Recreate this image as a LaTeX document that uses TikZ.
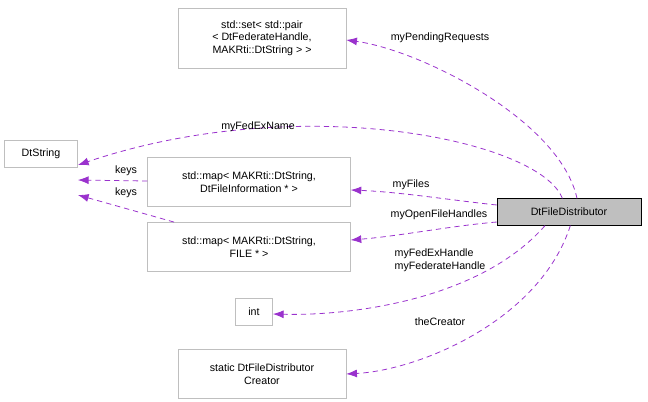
\documentclass[tikz,border=0pt]{standalone}
\usepackage{fontspec}
\setmainfont{Liberation Sans}
\usetikzlibrary{arrows.meta, positioning}
\definecolor{edgepurple}{HTML}{9A32CD}
\definecolor{boxgray}{HTML}{BFBFBF}
\definecolor{framegray}{HTML}{BFBFBF}

\tikzset{
  cls/.style={draw=framegray, fill=white, align=center, inner sep=3pt, font=\fontsize{8}{9.5}\selectfont},
  rel/.style={draw=edgepurple, line width=0.6pt, dash pattern=on 4pt off 3pt, -{Latex[length=8pt,width=6pt]}},
  lbl/.style={font=\fontsize{8}{9.5}\selectfont},
}

\begin{document}
\begin{tikzpicture}[x=0.75pt, y=-0.75pt]
    \useasboundingbox (0,0) rectangle (648,401);

    % Classes
    \node[cls, draw=black, fill=boxgray, minimum width=108pt, minimum height=20pt] (dist) at (569,212) {DtFileDistributor};
    \node[cls, minimum width=55pt, minimum height=20pt] (str) at (41,154) {DtString};
    \node[cls, minimum width=126pt, minimum height=45pt] (pset) at (262,38) {std::set< std::pair\\< DtFederateHandle,\\ MAKRti::DtString > >};
    \node[cls, minimum width=152pt, minimum height=37pt] (fmap) at (249,182) {std::map< MAKRti::DtString,\\DtFileInformation * >};
    \node[cls, minimum width=152pt, minimum height=37pt] (hmap) at (249,247) {std::map< MAKRti::DtString,\\FILE * >};
    \node[cls, minimum width=28pt, minimum height=20pt] (int) at (254,312) {int};
    \node[cls, minimum width=126pt, minimum height=37pt] (creator) at (262,374) {static DtFileDistributor\\Creator};

    % Relations
    \draw[rel] ([xshift=6pt]dist.north) .. controls (560,120) and (420,50) .. (pset.east |- 0,40);
    \draw[rel] ([xshift=-5pt]dist.north) .. controls (540,140) and (300,90) .. (str.east |- 0,165);
    \draw[rel] (fmap.west |- 0,181) -- (str.east |- 0,180);
    \draw[rel] ([xshift=20pt]hmap.north west) -- (str.east |- 0,195);
    \draw[rel] (dist.west |- 0,205) .. controls (450,200) and (400,192) .. (fmap.east |- 0,190);
    \draw[rel] (dist.west |- 0,222) .. controls (450,226) and (400,236) .. (hmap.east |- 0,240);
    \draw[rel] ([xshift=-18pt]dist.south) .. controls (480,300) and (350,316) .. (int.east |- 0,314);
    \draw[rel] ([xshift=1pt]dist.south) .. controls (540,320) and (420,370) .. (creator.east |- 0,374);

    % Labels
    \node[lbl] (lpend) at (440,38) {myPendingRequests};
    \node[lbl] (lfedex) at (258,127) {myFedExName};
    \node[lbl] (lkey1) at (126,171) {keys};
    \node[lbl] (lkey2) at (126,193) {keys};
    \node[lbl] (lfiles) at (411,185) {myFiles};
    \node[lbl] (lopen) at (439,215) {myOpenFileHandles};
    \node[lbl, align=left] (lhandle) at (440,260) {myFedExHandle\\myFederateHandle};
    \node[lbl] (lcreator) at (440,322) {theCreator};
\end{tikzpicture}
\end{document}
